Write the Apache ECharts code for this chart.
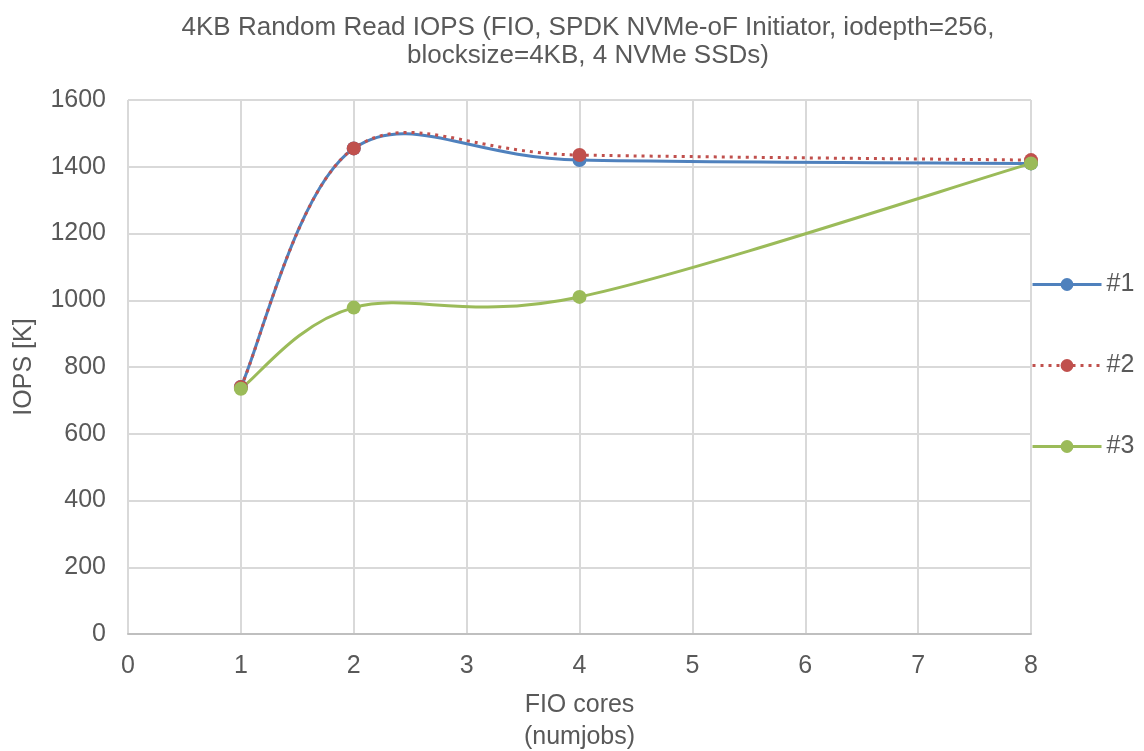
<!DOCTYPE html>
<html><head><meta charset="utf-8">
<script src="https://cdn.jsdelivr.net/npm/echarts@6/dist/echarts.min.js"></script>
<style>html,body{margin:0;padding:0;background:#fff;overflow:hidden}#c{width:1144px;height:751px}</style>
</head><body><div id="c"></div>
<script>
const xValues = [1, 2, 4, 8];
const series1 = [740, 1455, 1420, 1410];
const series2 = [740, 1455, 1435, 1420];
const series3 = [735, 978, 1010, 1410];
const seriesNames = ['#1', '#2', '#3'];
const colors = ['#4f81bd', '#c0504d', '#9bbb59'];
const titleText = '4KB Random Read IOPS (FIO, SPDK NVMe-oF Initiator, iodepth=256,\nblocksize=4KB, 4 NVMe SSDs)';

const pairs = arr => arr.map((v, i) => [xValues[i], v]);
const font = 'Liberation Sans, Arial, sans-serif';
const gray = '#595959';
const dashes = [null, [3, 5], null];

// Smooth curve (Catmull-Rom as Bezier) through the points mapped by the axes
function curveSeries(name, data, color, dash) {
  return {
    name, type: 'custom', data: pairs(data), encode: { x: 0, y: 1 }, z: 2,
    renderItem: function (params, api) {
      if (params.dataIndex !== 0) return null;
      const P = data.map((v, i) => api.coord([xValues[i], v]));
      let d = 'M' + P[0][0] + ' ' + P[0][1];
      for (let i = 0; i < P.length - 1; i++) {
        const p0 = P[Math.max(i - 1, 0)], p1 = P[i], p2 = P[i + 1], p3 = P[Math.min(i + 2, P.length - 1)];
        const c1 = [p1[0] + (p2[0] - p0[0]) / 6, p1[1] + (p2[1] - p0[1]) / 6];
        const c2 = [p2[0] - (p3[0] - p1[0]) / 6, p2[1] - (p3[1] - p1[1]) / 6];
        d += ' C' + c1[0] + ' ' + c1[1] + ' ' + c2[0] + ' ' + c2[1] + ' ' + p2[0] + ' ' + p2[1];
      }
      return { type: 'path', shape: { pathData: d },
        style: { fill: null, stroke: color, lineWidth: 3, lineDash: dash || null } };
    }
  };
}
function markerSeries(name, data, color, dash) {
  return {
    name, type: 'line', data: pairs(data), z: 3,
    symbol: 'circle', symbolSize: 14, showSymbol: true,
    itemStyle: { color },
    lineStyle: { color, width: 3, opacity: 0, type: dash || 'solid' }
  };
}
const allData = [series1, series2, series3];
const series = [];
allData.forEach((d, i) => series.push(markerSeries(seriesNames[i], d, colors[i], dashes[i])));
allData.forEach((d, i) => series.push(curveSeries(seriesNames[i], d, colors[i], dashes[i])));

const chart = echarts.init(document.getElementById('c'));
chart.setOption({
  animation: false,
  title: { text: titleText, left: 583, top: 9, textAlign: 'center',
    textStyle: { color: gray, fontSize: 26, fontWeight: 'normal', fontFamily: font, lineHeight: 28 } },
  grid: { left: 128, right: 113, top: 100, bottom: 117, containLabel: false, outerBoundsMode: 'none' },
  legend: { orient: 'vertical', left: 1031, top: 272, padding: 0, itemWidth: 69, itemHeight: 16, itemGap: 56,
    textStyle: { color: gray, fontSize: 25, fontFamily: font },
    data: seriesNames.map((n, i) => ({ name: n,
      lineStyle: { color: colors[i], width: 3, opacity: 1, type: dashes[i] || 'solid' } })) },
  xAxis: { type: 'value', min: 0, max: 8, interval: 1,
    name: 'FIO cores\n(numjobs)', nameLocation: 'middle', nameGap: 55,
    nameTextStyle: { color: gray, fontSize: 25, fontFamily: font, lineHeight: 32 },
    axisLine: { lineStyle: { color: '#bfbfbf', width: 2 } }, axisTick: { show: false },
    axisLabel: { color: gray, fontSize: 25, fontFamily: font, margin: 20 },
    splitLine: { show: true, lineStyle: { color: '#d9d9d9', width: 2 } } },
  yAxis: { type: 'value', min: 0, max: 1600, interval: 200,
    name: 'IOPS [K]', nameLocation: 'middle', nameGap: 91,
    nameTextStyle: { color: gray, fontSize: 25, fontFamily: font },
    axisLine: { show: false }, axisTick: { show: false },
    axisLabel: { color: gray, fontSize: 25, fontFamily: font, margin: 22, formatter: v => String(v) },
    splitLine: { show: true, lineStyle: { color: '#d9d9d9', width: 2 } } },
  series
});
</script></body></html>
